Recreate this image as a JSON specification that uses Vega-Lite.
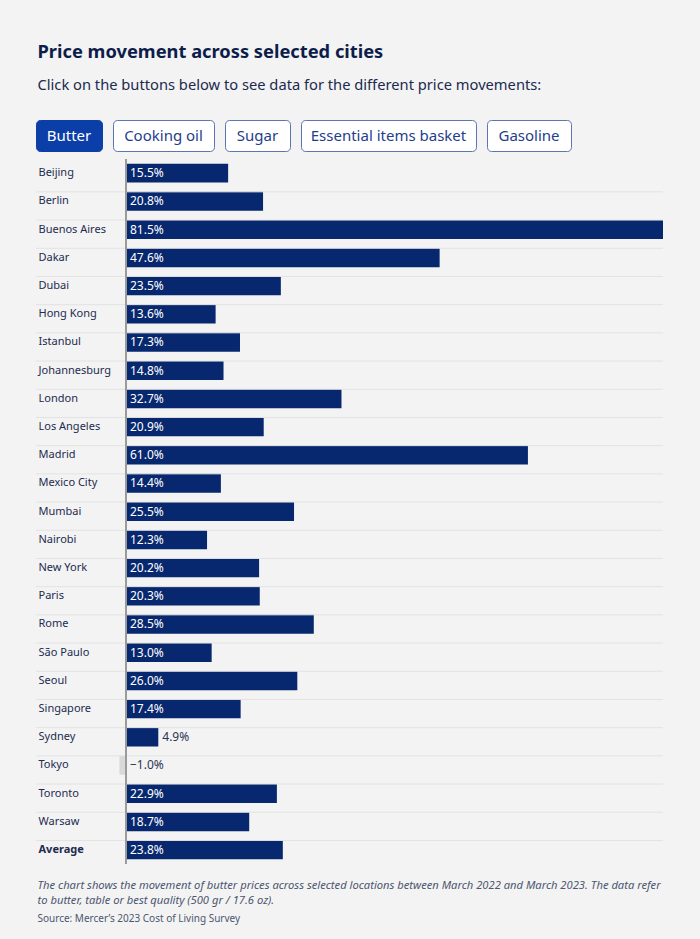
{
  "$schema": "https://vega.github.io/schema/vega-lite/v6.json",
  "background": "#f3f3f3",
  "padding": {"left": 35, "top": 42, "right": 38, "bottom": 20},
  "config": {"font": "Noto Sans", "view": {"stroke": null}},
  "title": {
    "text": "Price movement across selected cities",
    "subtitle": "Click on the buttons below to see data for the different price movements:",
    "anchor": "start",
    "dx": 2,
    "fontSize": 18.3,
    "fontWeight": "bold",
    "color": "#0d1d4a",
    "subtitleFontSize": 14.7,
    "subtitleColor": "#1b2a4e",
    "subtitlePadding": 16,
    "offset": 26
  },
  "datasets": {
    "buttons": [
      {"label": "Butter", "selected": true},
      {"label": "Cooking oil", "selected": false},
      {"label": "Sugar", "selected": false},
      {"label": "Essential items basket", "selected": false},
      {"label": "Gasoline", "selected": false}
    ],
    "prices": [
      {"city": "Beijing", "value": 0.155},
      {"city": "Berlin", "value": 0.208},
      {"city": "Buenos Aires", "value": 0.815},
      {"city": "Dakar", "value": 0.476},
      {"city": "Dubai", "value": 0.235},
      {"city": "Hong Kong", "value": 0.136},
      {"city": "Istanbul", "value": 0.173},
      {"city": "Johannesburg", "value": 0.148},
      {"city": "London", "value": 0.327},
      {"city": "Los Angeles", "value": 0.209},
      {"city": "Madrid", "value": 0.61},
      {"city": "Mexico City", "value": 0.144},
      {"city": "Mumbai", "value": 0.255},
      {"city": "Nairobi", "value": 0.123},
      {"city": "New York", "value": 0.202},
      {"city": "Paris", "value": 0.203},
      {"city": "Rome", "value": 0.285},
      {"city": "São Paulo", "value": 0.13},
      {"city": "Seoul", "value": 0.26},
      {"city": "Singapore", "value": 0.174},
      {"city": "Sydney", "value": 0.049},
      {"city": "Tokyo", "value": -0.01},
      {"city": "Toronto", "value": 0.229},
      {"city": "Warsaw", "value": 0.187},
      {"city": "Average", "value": 0.238}
    ]
  },
  "spacing": 6,
  "vconcat": [
    {
      "spacing": 9,
      "hconcat": [
        {
          "width": 66, "height": 31,
          "data": {"name": "buttons"},
          "transform": [{"filter": "datum.label === 'Butter'"}],
          "view": {"fill": "#0b3ea8", "stroke": "#0b3ea8", "cornerRadius": 4},
          "mark": {"type": "text", "fontSize": 15, "color": "#ffffff", "baseline": "middle"},
          "encoding": {"text": {"field": "label"}}
        },
        {
          "width": 101, "height": 31,
          "data": {"name": "buttons"},
          "transform": [{"filter": "datum.label === 'Cooking oil'"}],
          "view": {"fill": "#ffffff", "stroke": "#5d76b3", "cornerRadius": 4},
          "mark": {"type": "text", "fontSize": 15, "color": "#1f3d8c", "baseline": "middle"},
          "encoding": {"text": {"field": "label"}}
        },
        {
          "width": 65, "height": 31,
          "data": {"name": "buttons"},
          "transform": [{"filter": "datum.label === 'Sugar'"}],
          "view": {"fill": "#ffffff", "stroke": "#5d76b3", "cornerRadius": 4},
          "mark": {"type": "text", "fontSize": 15, "color": "#1f3d8c", "baseline": "middle"},
          "encoding": {"text": {"field": "label"}}
        },
        {
          "width": 175, "height": 31,
          "data": {"name": "buttons"},
          "transform": [{"filter": "datum.label === 'Essential items basket'"}],
          "view": {"fill": "#ffffff", "stroke": "#5d76b3", "cornerRadius": 4},
          "mark": {"type": "text", "fontSize": 15, "color": "#1f3d8c", "baseline": "middle"},
          "encoding": {"text": {"field": "label"}}
        },
        {
          "width": 84, "height": 31,
          "data": {"name": "buttons"},
          "transform": [{"filter": "datum.label === 'Gasoline'"}],
          "view": {"fill": "#ffffff", "stroke": "#5d76b3", "cornerRadius": 4},
          "mark": {"type": "text", "fontSize": 15, "color": "#1f3d8c", "baseline": "middle"},
          "encoding": {"text": {"field": "label"}}
        }
      ]
    },
    {
      "width": 627,
      "height": 705,
      "data": {"name": "prices"},
      "title": {
        "text": ["The chart shows the movement of butter prices across selected locations between March 2022 and March 2023. The data refer", "to butter, table or best quality (500 gr / 17.6 oz)."],
        "subtitle": "Source: Mercer’s 2023 Cost of Living Survey",
        "orient": "bottom",
        "anchor": "start",
        "dx": 2,
        "fontSize": 11.2,
        "fontStyle": "italic",
        "fontWeight": "normal",
        "color": "#4b5670",
        "lineHeight": 15,
        "subtitleFontSize": 10,
        "subtitleColor": "#4b5670",
        "subtitlePadding": 8,
        "offset": 15
      },
      "layer": [
        {
          "mark": {"type": "bar"},
          "encoding": {
            "y": {
              "field": "city", "type": "nominal", "sort": null,
              "scale": {"paddingInner": 0.33, "paddingOuter": 0.165},
              "axis": {
                "title": null, "orient": "left", "domain": false, "ticks": false, "tickSize": 0,
                "labelAlign": "left", "labelPadding": -2, "labelFontSize": 11, "labelColor": "#1d2b4f",
                "labelFontWeight": {"condition": {"test": "datum.value === 'Average'", "value": "bold"}, "value": "normal"}
              }
            },
            "x": {
              "field": "value", "type": "quantitative",
              "scale": {"domain": [-0.1366, 0.815], "nice": false},
              "axis": null
            },
            "color": {
              "condition": {"test": "datum.value < 0", "value": "#d9d9d9"},
              "value": "#07286e"
            }
          }
        },
        {
          "mark": {"type": "rule", "color": "#e2e2e2", "strokeWidth": 1},
          "encoding": {
            "y": {"field": "city", "type": "nominal", "sort": null, "bandPosition": 0},
            "strokeOpacity": {"condition": {"test": "datum.city === 'Beijing'", "value": 0}, "value": 1}
          }
        },
        {
          "mark": {"type": "rule", "color": "#9a9a9a", "strokeWidth": 1},
          "encoding": {"x": {"datum": 0}}
        },
        {
          "mark": {"type": "text", "align": "left", "baseline": "middle", "dx": 4, "fontSize": 12},
          "encoding": {
            "y": {"field": "city", "type": "nominal", "sort": null},
            "x": {"datum": 0},
            "text": {"field": "value", "type": "quantitative", "format": ".1%"},
            "color": {"condition": {"test": "datum.value < 0", "value": "#2b3553"}, "value": "#ffffff"},
            "opacity": {"condition": {"test": "datum.value >= 0.1 || datum.value < 0", "value": 1}, "value": 0}
          }
        },
        {
          "mark": {"type": "text", "align": "left", "baseline": "middle", "dx": 4, "fontSize": 12, "color": "#2b3553"},
          "encoding": {
            "y": {"field": "city", "type": "nominal", "sort": null},
            "x": {"field": "value", "type": "quantitative"},
            "text": {"field": "value", "type": "quantitative", "format": ".1%"},
            "opacity": {"condition": {"test": "datum.value >= 0 && datum.value < 0.1", "value": 1}, "value": 0}
          }
        }
      ]
    }
  ]
}
